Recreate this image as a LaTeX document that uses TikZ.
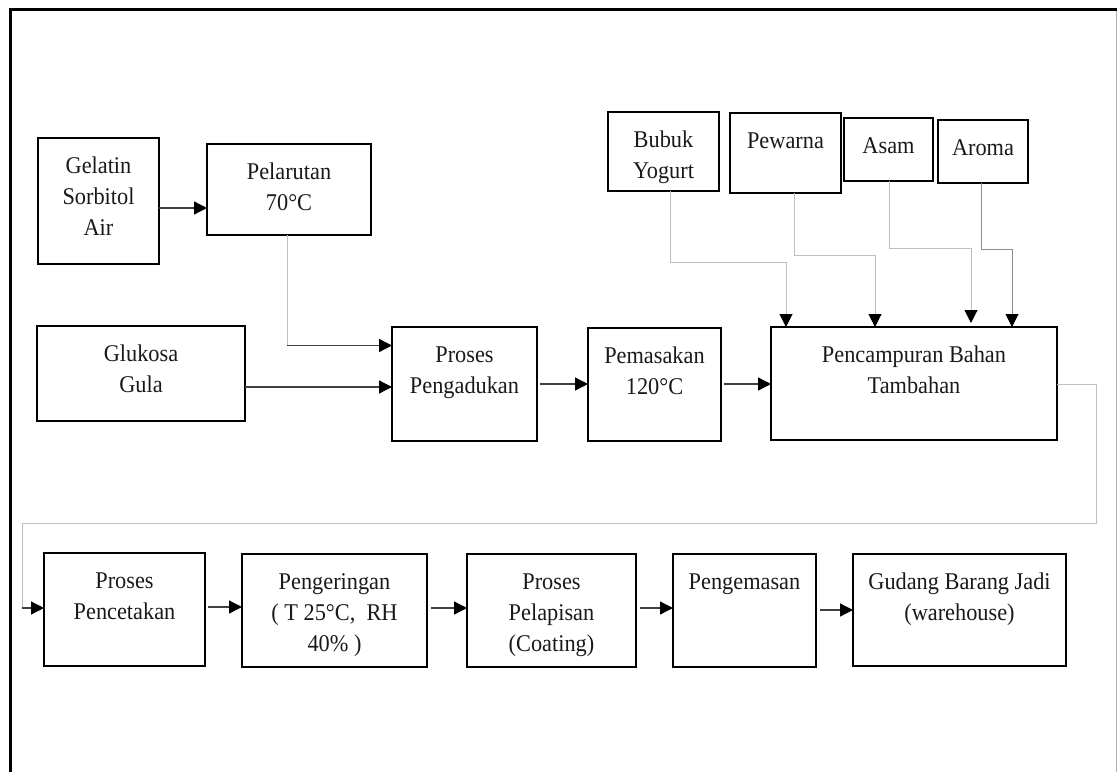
\documentclass[tikz,border=0pt]{standalone}
\usepackage{fontspec}
\setmainfont{Liberation Serif}[FakeStretch=0.93]
\usetikzlibrary{arrows.meta}
\newcommand\bx[6]{%
  \pgfmathsetmacro\bxw{#4-#2}\pgfmathsetmacro\bxh{#5-#3}%
  \node[box, minimum width=\bxw pt, minimum height=\bxh pt] (#1) at ({(#2+#4)/2},{(#3+#5)/2}) {};
  \node[txt] (#1t) at ([yshift=-17pt]#1.north) {\rule{0pt}{18pt}#6};}
\begin{document}
\begin{tikzpicture}[x=1pt,y=-1pt,
  box/.style={draw=black, line width=2pt, inner sep=0pt, outer sep=0pt},
  txt/.style={anchor=north, inner sep=0pt, align=center, font=\fontsize{24}{31}\selectfont, text=black!90},
  tip/.style={-{Triangle[length=13pt,width=13pt,color=black]}},
  dk/.style={draw=black!75, line width=1.3pt},
  lg/.style={draw=black!25, line width=1pt},
  md/.style={draw=black!45, line width=1pt}]
\useasboundingbox (0,0) rectangle (1117,772);
% frame
\draw[line width=3pt] (10,772) -- (10,9.5) -- (1117,9.5);
\draw[black!30, line width=1pt] (1116,11) -- (1116,772);
% boxes
\bx{gel}{38}{138}{159}{264}{Gelatin\\Sorbitol\\Air}
\bx{pel}{207}{144}{371}{235}{Pelarutan\\70°C}
\bx{glu}{37}{326}{245}{421}{Glukosa\\Gula}
\bx{pad}{392}{327}{537}{441}{Proses\\Pengadukan}
\bx{pem}{588}{328}{721}{441}{Pemasakan\\120°C}
\bx{pcb}{771}{327}{1057}{440}{Pencampuran Bahan\\Tambahan}
\bx{bub}{608}{112}{719}{191}{Bubuk\\Yogurt}
\bx{pew}{730}{113}{841}{193}{Pewarna}
\bx{asm}{844}{118}{933}{181}{Asam}
\bx{arm}{938}{120}{1028}{183}{Aroma}
\bx{pct}{44}{553}{205}{666}{Proses\\Pencetakan}
\bx{pgr}{242}{554}{427}{667}{Pengeringan\\( T 25°C,\ \ RH\\40\% )}
\bx{plp}{467}{554}{636}{667}{Proses\\Pelapisan\\(Coating)}
\bx{pgm}{673}{554}{816}{667}{Pengemasan}
\bx{gdg}{853}{554}{1066}{666}{Gudang Barang Jadi\\(warehouse)}
% connectors
\draw[dk,tip] (gel.east |- 0,208) -- (pel.west |- 0,208);
\coordinate (k1) at (287,345.5);
\draw[lg] (pel.south -| k1) -- (k1);
\draw[dk,tip] (k1) -- (pad.west |- k1);
\draw[dk,tip] (glu.east |- 0,387) -- (pad.west |- 0,387);
\draw[dk,tip,shorten <=3pt] (pad.east |- 0,384) -- (pem.west |- 0,384);
\draw[dk,tip,shorten <=3pt] (pem.east |- 0,384) -- (pcb.west |- 0,384);
\draw[lg,tip] (bub.south -| 670,0) |- (786,262) -- (pcb.north -| 786,0);
\draw[lg,tip] (pew.south -| 794,0) |- (875,255) -- (pcb.north -| 875,0);
\draw[lg,tip,shorten >=4pt] (asm.south -| 889,0) |- (971,248) -- (pcb.north -| 971,0);
\draw[md,tip] (arm.south -| 981,0) |- (1012,249) -- (pcb.north -| 1012,0);
\coordinate (k2) at (22,608);
\draw[lg] (pcb.east |- 0,384) -| (1096,523) -| (k2);
\draw[dk,tip] (k2) -- (pct.west |- k2);
\draw[dk,tip,shorten <=3pt] (pct.east |- 0,607) -- (pgr.west |- 0,607);
\draw[dk,tip,shorten <=4pt] (pgr.east |- 0,608) -- (plp.west |- 0,608);
\draw[dk,tip,shorten <=4pt] (plp.east |- 0,608) -- (pgm.west |- 0,608);
\draw[dk,tip,shorten <=4pt] (pgm.east |- 0,610) -- (gdg.west |- 0,610);
\end{tikzpicture}
\end{document}
